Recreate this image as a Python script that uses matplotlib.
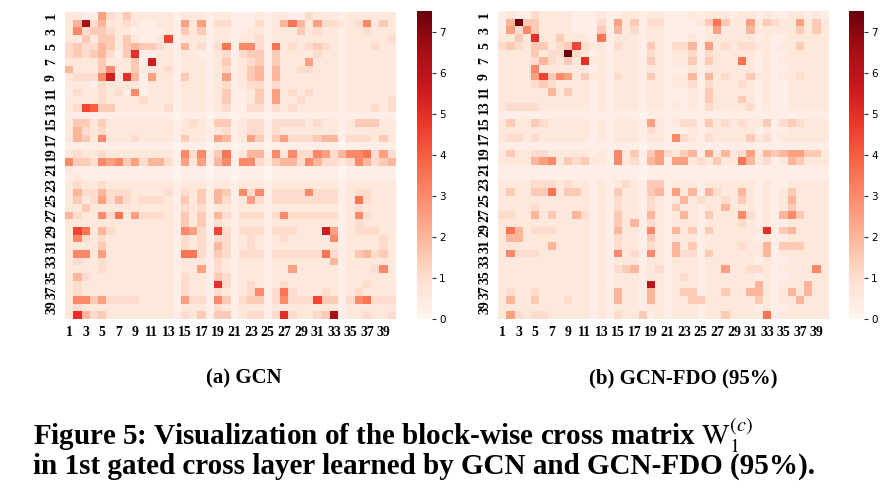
import numpy as np
import matplotlib
matplotlib.use("Agg")
import matplotlib.pyplot as plt

# ---- data: each char is a level code, decoded via LEVELS ----
LEVELS = {'0': 0.1, '1': 0.3, '2': 0.65, '3': 1.05, '4': 1.5, '5': 2.0, '6': 2.5,
          '7': 3.0, '8': 3.5, '9': 4.0, 'a': 4.5, 'b': 5.0, 'c': 5.5, 'd': 6.0,
          'e': 6.5, 'f': 7.0, 'g': 7.4}

gcn_rows = [
    "2211632422" "2221222122" "1112122113" "2221222222",
    "25e3522321" "1221626133" "1113125852" "6332237242",
    "2734432211" "1121424122" "1122122242" "3221223222",
    "2242442421" "12a1222122" "1223122222" "2221222223",
    "3433542454" "4321523138" "1773182323" "4321222322",
    "34345314b1" "1221221123" "1344142222" "3221222222",
    "2222422241" "c221222124" "1234142226" "2221222222",
    "5222472242" "2231222123" "1245152233" "2221222222",
    "23337c2b51" "6221422126" "1245152222" "2221222222",
    "2221322221" "2221222123" "1233132222" "2221222222",
    "1322323171" "2221222124" "1124162323" "2221222222",
    "2222322223" "2221222124" "1124162232" "2221222223",
    "23a9442222" "2231222123" "1133132322" "2221222323",
    "1111111111" "1110111011" "0111011111" "1111111111",
    "2442422222" "2221232144" "1233133332" "3221244422",
    "2532322222" "2221222123" "1233132222" "2221222222",
    "2542722232" "2221422165" "1264146333" "4551333242",
    "1111111111" "1110111011" "0111011111" "1110111111",
    "2322322222" "2221737148" "1255172733" "7635778363",
    "7443767463" "5531626157" "1773245537" "5332375345",
    "2111111111" "1110111011" "0111011111" "1110111111",
    "1211111111" "1110111011" "0111011111" "1110111111",
    "2322322222" "2221222122" "1222122222" "2221222222",
    "2533533322" "2231324154" "1737133337" "3331233222",
    "2423635323" "3321424153" "1263133333" "3331283222",
    "2242222222" "2221323122" "1222122222" "2221232222",
    "5322738263" "3321424153" "1333137333" "3331273222",
    "2222222222" "2221424132" "1222122222" "2221232222",
    "2a82532222" "22217631a3" "1333133322" "2c61233322",
    "2732322222" "2221323133" "1232123222" "2271222232",
    "2222422222" "2221323153" "1232122222" "2221222232",
    "2772622222" "2221883143" "1333133333" "3831245342",
    "2322322222" "2221222132" "1222122222" "2251222222",
    "2222322222" "2221226132" "1222122622" "2221222372",
    "2532222222" "2221322143" "1222122222" "2221222222",
    "2322222222" "22213221b3" "1232123222" "2221223222",
    "2322222222" "2221322132" "1237138322" "2321232222",
    "2774633332" "2221633174" "1344137333" "a441378333",
    "2322222222" "2221222132" "1222122222" "2221222222",
    "2b53422222" "2221324144" "123313b322" "34e1223223",
]

fdo_rows = [
    "1211322221" "1121122122" "1112122212" "2121122121",
    "15g4422221" "1131624133" "1111248422" "6243226242",
    "1637422221" "1141523122" "1111126222" "5222224242",
    "2242b22422" "2181222122" "1112122222" "2121122222",
    "343244234a" "3221322142" "1335162323" "3221224222",
    "22224233g3" "2121222132" "1223132222" "2121122222",
    "2222353242" "b221222142" "1224142228" "2121222222",
    "2222722222" "2121222122" "1112122222" "2121122222",
    "22226a4762" "4221322142" "1225152322" "4221223222",
    "2222343222" "2121222122" "1223132223" "2121122222",
    "2222225242" "2121222122" "1112142222" "2121122222",
    "2222222222" "2121222122" "1112142224" "2121122222",
    "2333322222" "2121222122" "1212132222" "3121122222",
    "1111111111" "1111111011" "1111111111" "1111111111",
    "2422432222" "2121222162" "1233142323" "2241343222",
    "2222222222" "2121222132" "1112122222" "2121122222",
    "2332322222" "2121222122" "1732132222" "4231222222",
    "1111111111" "1111111011" "1111111111" "1111111111",
    "2422332222" "2121724146" "3245162523" "6254566442",
    "2222567243" "4221723156" "1662324228" "5231254222",
    "1111111111" "1111111011" "1111111111" "1111111111",
    "1111111111" "1111111011" "1111111111" "1111111111",
    "2222333232" "2121232144" "1222122222" "2121122222",
    "2422448244" "2121422145" "1625153225" "2121242222",
    "2222222222" "2121322132" "1252322324" "2121252222",
    "2222322222" "2121322132" "1422122522" "2121242222",
    "3322524225" "3121422152" "1252142227" "3121574222",
    "2222222222" "2121425132" "1222122223" "2121122222",
    "2852333222" "2121522172" "1524142222" "22b1452222",
    "2552222222" "2121322142" "1222122222" "2121122222",
    "2222225222" "2121322132" "1524122223" "2251444222",
    "2733322222" "2121723172" "1533142222" "2251222222",
    "2222222222" "2121222122" "1222122222" "2121122222",
    "2222222222" "2121345123" "1222122622" "3321222272",
    "2222222222" "2121222122" "1232122222" "2121122222",
    "2222222222" "21212221d2" "1222122222" "2521222522",
    "2322322222" "2121522152" "1244122422" "5521252522",
    "2522422232" "2121522152" "1224422222" "2421225222",
    "2222222222" "2121222122" "1222122222" "2121122222",
    "2632332222" "2121322412" "1222122422" "2281222222",
]

tick_labels = [str(i) for i in range(1, 41)]
cbar_ticks = [0, 1, 2, 3, 4, 5, 6, 7]
vmin, vmax = 0.0, 7.5
sub_captions = ["(a) GCN", "(b) GCN-FDO (95%)"]
caption_line1 = r"Figure 5: Visualization of the block-wise cross matrix $\mathrm{W}_1^{(c)}$"
caption_line2 = "in 1st gated cross layer learned by GCN and GCN-FDO (95%)."


def decode(rows):
    return np.array([[LEVELS[ch] for ch in r] for r in rows])


mats = [decode(gcn_rows), decode(fdo_rows)]

plt.rcParams['mathtext.fontset'] = 'stix'
fig = plt.figure(figsize=(8.88, 4.96), dpi=100)
W, H = 888.0, 496.0

heat_boxes = [(65, 12, 396, 319), (498, 11, 829, 319)]
cbar_boxes = [(417, 11, 432, 319), (849, 11, 864, 319)]
serif = 'Liberation Serif'

for k in range(2):
    M = mats[k]
    x0, y0, x1, y1 = heat_boxes[k]
    ax = fig.add_axes([x0 / W, 1 - y1 / H, (x1 - x0) / W, (y1 - y0) / H])
    n = M.shape[0]
    mesh = ax.pcolormesh(np.arange(n + 1), np.arange(n + 1), M, cmap='Reds',
                         vmin=vmin, vmax=vmax)
    ax.set_xlim(0, n)
    ax.set_ylim(n, 0)
    idx = np.arange(0, n, 2)
    ax.set_xticks(idx + 0.5)
    ax.set_xticklabels([tick_labels[i] for i in idx], fontfamily=serif,
                       fontsize=10, fontweight='bold')
    ax.set_yticks(idx + 0.5)
    ax.set_yticklabels([tick_labels[i] for i in idx], fontfamily=serif,
                       fontsize=10, fontweight='bold', rotation=90, va='center')
    ax.tick_params(length=0, pad=5)
    for s in ax.spines.values():
        s.set_visible(False)

    cx0, cy0, cx1, cy1 = cbar_boxes[k]
    cax = fig.add_axes([cx0 / W, 1 - cy1 / H, (cx1 - cx0) / W, (cy1 - cy0) / H])
    cb = fig.colorbar(mesh, cax=cax, ticks=cbar_ticks)
    cb.outline.set_linewidth(0)
    cax.tick_params(labelsize=7.5, length=3, width=0.8, color='#333333', pad=2)

sub_x = [244, 683]
for k in range(2):
    fig.text(sub_x[k] / W, 1 - 383 / H, sub_captions[k], fontfamily=serif,
             fontweight='bold', fontsize=15, ha='center', va='baseline')

fig.text(33 / W, 1 - 445 / H, caption_line1, fontfamily=serif, fontweight='bold',
         fontsize=21, ha='left', va='baseline')
fig.text(33 / W, 1 - 474 / H, caption_line2, fontfamily=serif, fontweight='bold',
         fontsize=21, ha='left', va='baseline')

fig.savefig("out.png", dpi=100)
